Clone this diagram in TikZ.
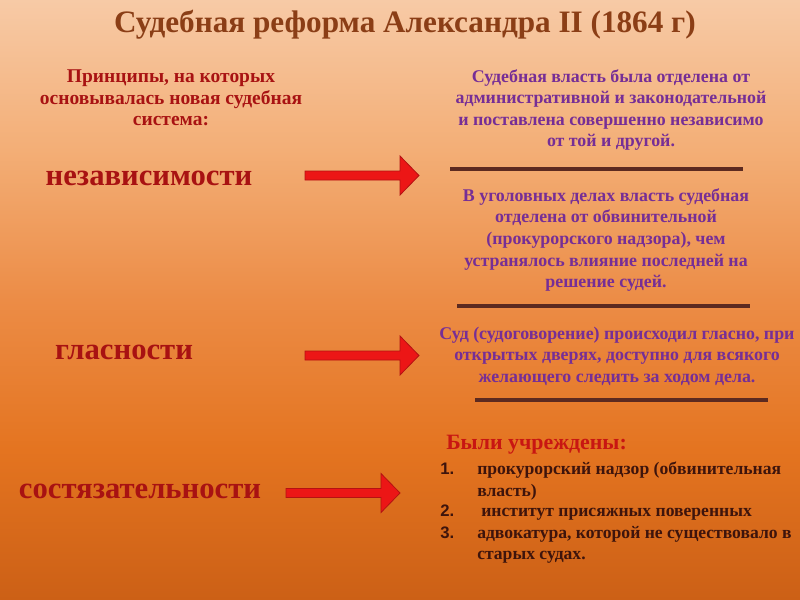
\documentclass[tikz,border=0pt]{standalone}
\usepackage{fontspec}
\setmainfont{Liberation Serif}
\newfontfamily\numfont{Liberation Sans}
\definecolor{bgtop}{RGB}{247,202,166}
\definecolor{bgq}{RGB}{243,174,118}
\definecolor{bgmid}{RGB}{236,140,70}
\definecolor{bgtq}{RGB}{228,116,32}
\definecolor{bgbot}{RGB}{204,96,22}
\definecolor{titlec}{RGB}{139,62,22}
\definecolor{labelc}{RGB}{168,18,18}
\definecolor{purp}{RGB}{118,46,150}
\definecolor{rulec}{RGB}{92,42,32}
\definecolor{arrfill}{RGB}{236,22,22}
\definecolor{arrline}{RGB}{180,18,18}
\definecolor{listc}{RGB}{62,20,12}
\definecolor{headc}{RGB}{200,22,18}
\pgfdeclareverticalshading{bgshade}{100bp}{color(0bp)=(bgbot); color(25bp)=(bgbot); color(37.5bp)=(bgtq); color(50bp)=(bgmid); color(62.5bp)=(bgq); color(75bp)=(bgtop); color(100bp)=(bgtop)}
\tikzset{
  title/.style={font=\fontsize{23.4}{28}\selectfont\bfseries, text=titlec, inner sep=0},
  principle/.style={font=\fontsize{23}{26}\selectfont\bfseries, text=labelc, inner sep=0},
  sub/.style={font=\fontsize{14.6}{16.2}\selectfont\bfseries, text=labelc, align=center, inner sep=0},
  desc/.style={font=\fontsize{13.4}{16.2}\selectfont\bfseries, text=purp, align=center, inner sep=0},
  rulel/.style={draw=rulec, line width=2.6pt},
  blockarr/.style={fill=arrfill, draw=arrline, line width=0.6pt, line join=miter},
  listtxt/.style={font=\fontsize{13.2}{15}\selectfont\bfseries, text=listc, anchor=base west, inner sep=0},
  listnum/.style={font=\numfont\fontsize{12.5}{15}\selectfont\bfseries, text=listc, anchor=base west, inner sep=0},
}
\newcommand\blockarrow[4]{% x0, xbase, xtip, yc
  \fill[blockarr] (#1,#4-4.5) -- (#2,#4-4.5) -- (#2,#4-19.5) -- (#3,#4) -- (#2,#4+19.5) -- (#2,#4+4.5) -- (#1,#4+4.5) -- cycle;}
\begin{document}
\begin{tikzpicture}[x=0.75pt,y=-0.75pt]
\useasboundingbox (0,0) rectangle (800,600);
\shade[shading=bgshade] (0,0) rectangle (800,600);

\node[title] (title) at (405,25) {Судебная реформа Александра II (1864 г)};

\node[sub] (principles) at (171,98) {Принципы, на которых\\основывалась новая судебная\\система:};

\node[desc] (d1) at (611,110) {Судебная власть была отделена от\\административной и законодательной\\и поставлена совершенно независимо\\от той и другой.};
\coordinate (r1a) at (450,169); \coordinate (r1b) at (743,169);
\draw[rulel] (r1a) -- (r1b);

\node[desc] (d2) at (606,240) {В уголовных делах власть судебная\\отделена от обвинительной\\(прокурорского надзора), чем\\устранялось влияние последней на\\решение судей.};
\coordinate (r2a) at (457,306); \coordinate (r2b) at (750,306);
\draw[rulel] (r2a) -- (r2b);

\node[desc] (d3) at (617,356) {Суд (судоговорение) происходил гласно, при\\открытых дверях, доступно для всякого\\желающего следить за ходом дела.};
\coordinate (r3a) at (475,400); \coordinate (r3b) at (768,400);
\draw[rulel] (r3a) -- (r3b);

\node[principle] (p1) at (149,178) {независимости};
\node[principle] (p2) at (124,352) {гласности};
\node[principle] (p3) at (140,491) {состязательности};

\blockarrow{305}{400}{419}{175.5}
\blockarrow{305}{400}{419}{355.5}
\blockarrow{286}{381}{400}{493}

\node[font=\fontsize{16.4}{19}\selectfont\bfseries, text=headc, anchor=west, inner sep=0] (head) at (446,445) {Были учреждены:};
\node[listnum] (n1) at (440,474) {1.};
\node[listtxt] (l1) at (477,474) {прокурорский надзор (обвинительная};
\node[listtxt] (l1b) at (477,496) {власть)};
\node[listnum] (n2) at (440,516) {2.};
\node[listtxt] (l2) at (481,516) {институт присяжных поверенных};
\node[listnum] (n3) at (440,538) {3.};
\node[listtxt] (l3) at (477,538) {адвокатура, которой не существовало в};
\node[listtxt] (l3b) at (477,559) {старых судах.};
\end{tikzpicture}
\end{document}
